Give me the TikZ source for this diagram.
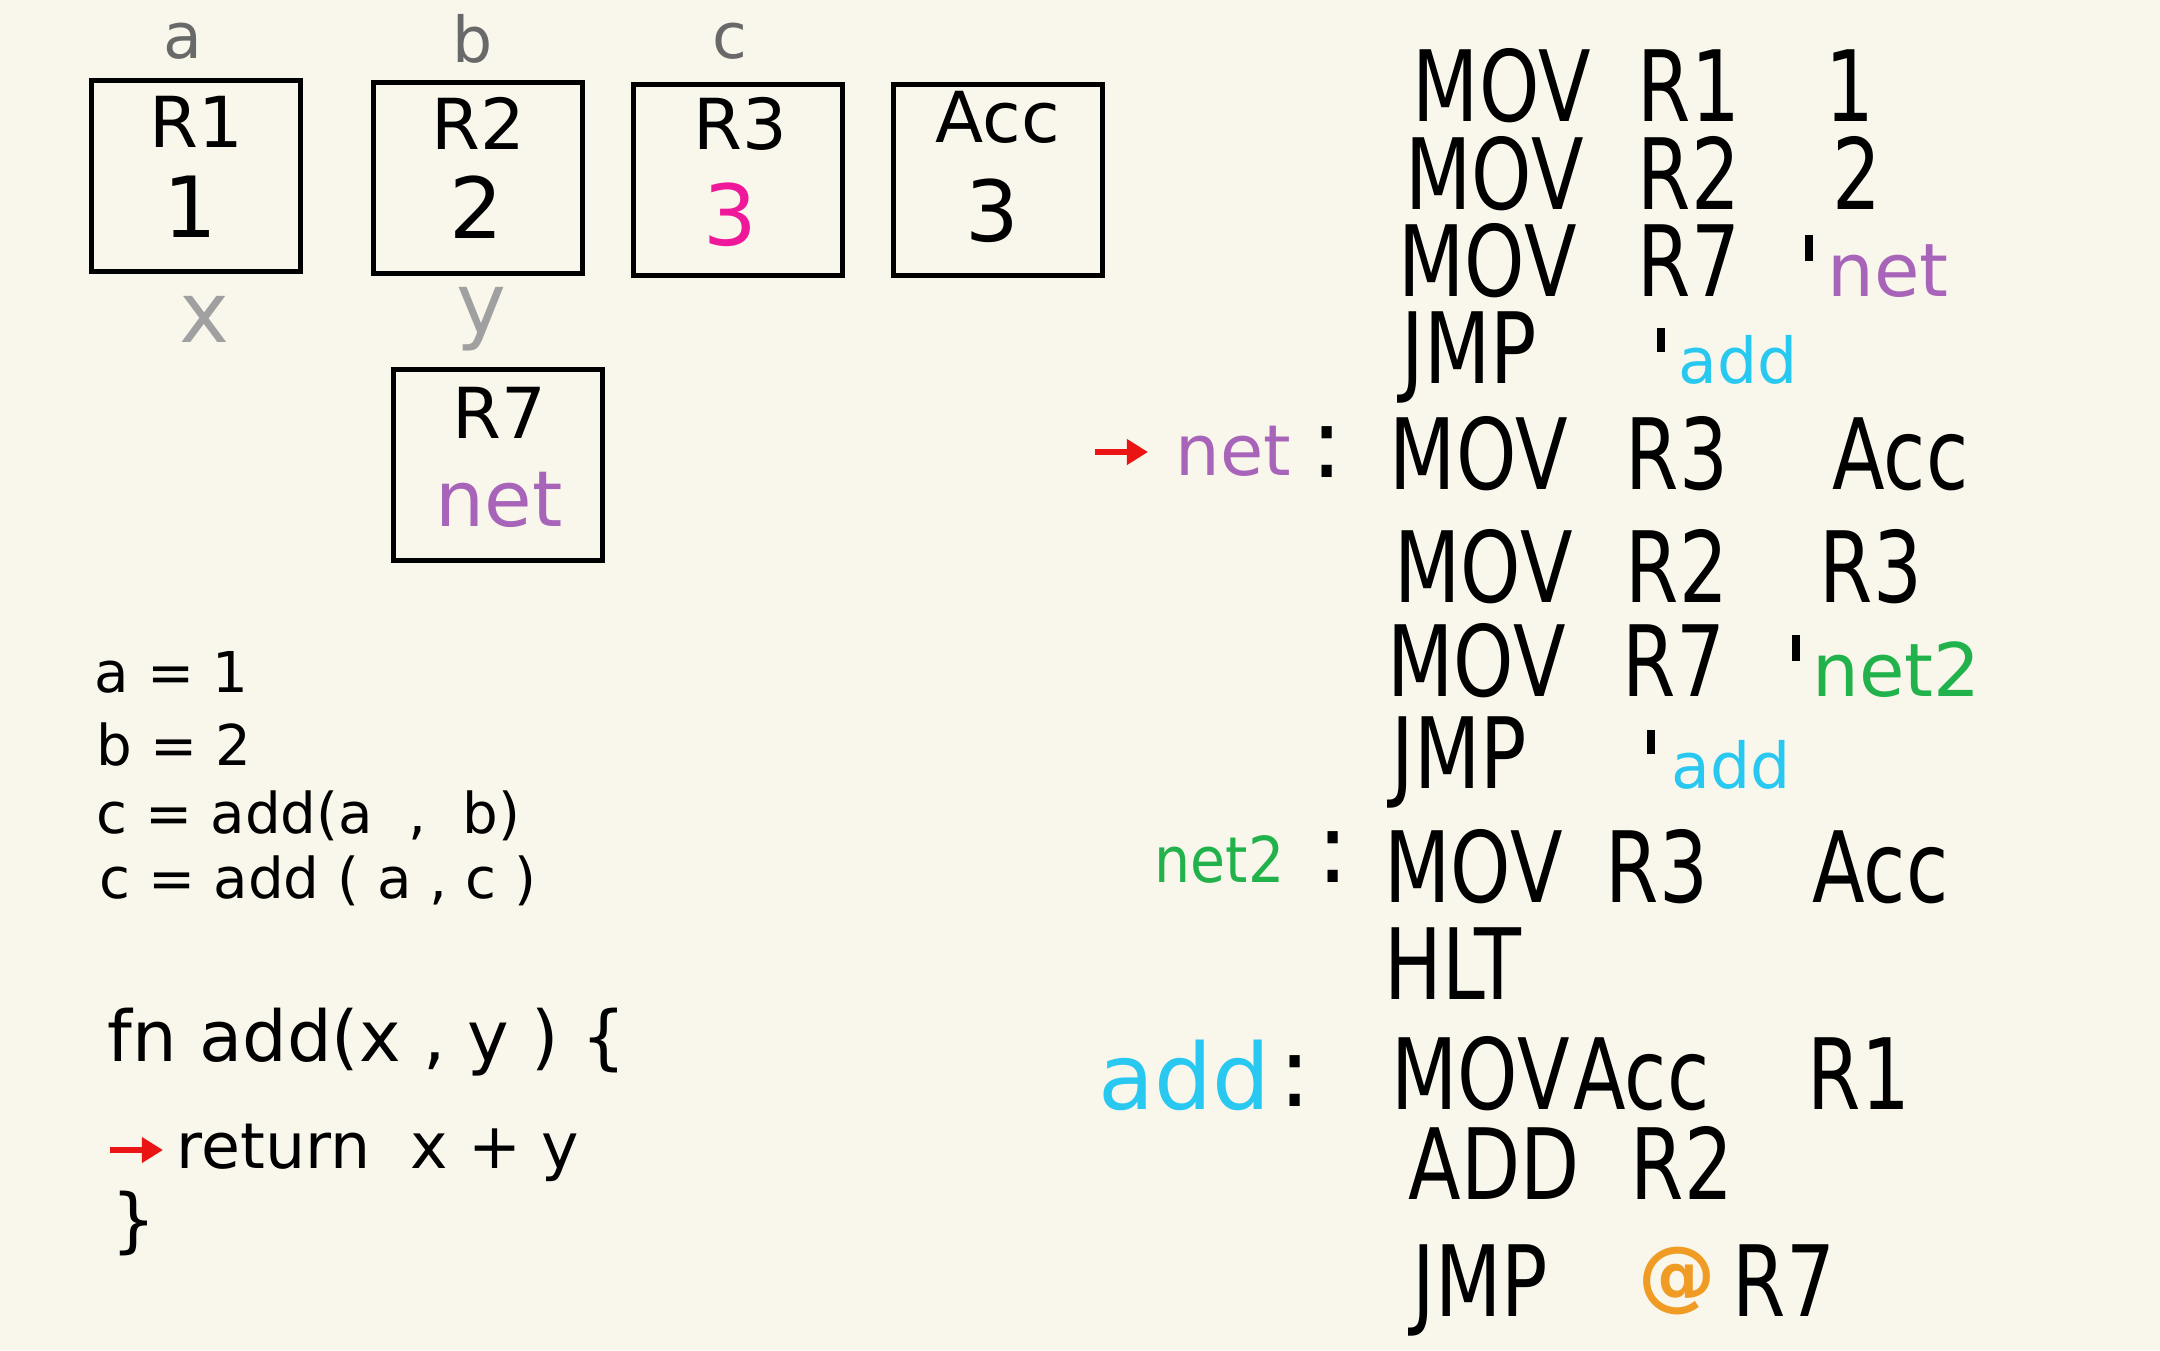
\documentclass[tikz,border=0pt]{standalone}
\usepackage{fontspec}
\setmainfont{DejaVu Sans}
\usetikzlibrary{arrows.meta}
\definecolor{bgc}{RGB}{249,247,236}
\definecolor{lblgray}{RGB}{105,105,105}
\definecolor{lightgrayc}{RGB}{160,160,160}
\definecolor{pinkc}{RGB}{240,24,154}
\definecolor{purplec}{RGB}{168,100,185}
\definecolor{cyanc}{RGB}{40,200,240}
\definecolor{greenc}{RGB}{34,178,76}
\definecolor{orangec}{RGB}{240,155,35}
\definecolor{redc}{RGB}{235,20,20}
\newcommand\sq[1]{\scalebox{0.78}[1]{#1}}
\begin{document}
\begin{tikzpicture}[x=0.01cm,y=-0.01cm,
  regbox/.style={draw, line width=1.6pt, minimum width=2.09cm, minimum height=1.91cm, inner sep=0pt},
  reglbl/.style={font=\fontsize{20}{24}\selectfont, anchor=base, inner sep=0pt},
  regval/.style={font=\fontsize{24}{28}\selectfont, anchor=base, inner sep=0pt},
  varlbl/.style={font=\fontsize{18}{22}\selectfont, anchor=base, inner sep=0pt, text=lblgray},
  parlbl/.style={font=\fontsize{24}{28}\selectfont, anchor=base, inner sep=0pt, text=lightgrayc},
  leftcode/.style={font=\fontsize{16}{20}\selectfont, anchor=base west, inner sep=0pt},
  fncode/.style={font=\fontsize{20}{24}\selectfont, anchor=base west, inner sep=0pt},
  rcode/.style={font=\fontsize{28}{32}\selectfont, anchor=base west, inner sep=0pt},
  tick/.style={anchor=center, inner sep=0pt},
  colonlbl/.style={font=\fontsize{28}{32}\selectfont, anchor=center, inner sep=0pt},
  redarr/.style={draw=redc, line width=1.8pt, -{Triangle[length=6pt,width=7pt]}, redc}
]
\fill[bgc] (0,0) rectangle (2160,1350);
\useasboundingbox (0,0) rectangle (2160,1350);

% register boxes
\node[regbox] (boxR1) at (196,176) {};
\node[regbox] (boxR2) at (478,178) {};
\node[regbox] (boxR3) at (738,180) {};
\node[regbox] (boxAcc) at (998,180) {};
\node[regbox] (boxR7) at (498,465) {};

\node[reglbl] (nR1) at (196,147) {R1};
\node[regval] (vR1) at (190,237) {1};
\node[reglbl] (nR2) at (478,149) {R2};
\node[regval] (vR2) at (476,238) {2};
\node[reglbl] (nR3) at (740,149) {R3};
\node[regval, text=pinkc] (vR3) at (730,245) {3};
\node[reglbl] (nAcc) at (998,142) {Acc};
\node[regval] (vAcc) at (992,241) {3};
\node[reglbl] (nR7) at (499,438) {R7};
\node[regval, text=purplec, font=\fontsize{22}{26}\selectfont] (vR7) at (499,526) {net};

% variable labels
\node[varlbl] (la) at (183,58) {a};
\node[varlbl] (lb) at (473,62) {b};
\node[varlbl] (lc) at (730,58) {c};
\node[parlbl] (lx) at (204,342) {x};
\node[parlbl] (ly) at (481,333) {y};

% left code
\node[leftcode] (c1) at (94,692) {a = 1};
\node[leftcode] (c2) at (96,765) {b = 2};
\node[leftcode] (c3) at (96,833) {c = add(a\ \ ,\ \ b)};
\node[leftcode] (c4) at (99,898) {c = add ( a , c )};
\node[fncode] (c5) at (107,1061) {fn add(x , y ) {\{}};
\coordinate (la1) at (110,1150);
\coordinate (la2) at (163,1150);
\draw[redarr] (la1) -- (la2);
\node[fncode, font=\fontsize{18}{22}\selectfont] (c6) at (176,1168) {return\ \ x + y};
\node[fncode, anchor=center] (c7) at (134,1223) {\}};

% right code
\node[rcode] (r1a) at (1412,121) {\sq{MOV}};
\node[rcode] (r1b) at (1637,121) {\sq{R1}};
\node[rcode] (r1c) at (1825,121) {\sq{1}};

\node[rcode] (r2a) at (1405,209) {\sq{MOV}};
\node[rcode] (r2b) at (1637,209) {\sq{R2}};
\node[rcode] (r2c) at (1832,209) {\sq{2}};

\node[rcode] (r3a) at (1398,296) {\sq{MOV}};
\node[rcode] (r3b) at (1637,296) {\sq{R7}};
\node[tick] (r3t) at (1809,248) {\rule{2.3pt}{7.4pt}};
\node[rcode, text=purplec, font=\fontsize{21}{25}\selectfont] (r3c) at (1827,296) {net};

\node[rcode] (r4a) at (1401,383) {\sq{JMP}};
\node[tick] (r4t) at (1661,340) {\rule{2.3pt}{7pt}};
\node[rcode, text=cyanc, font=\fontsize{18}{22}\selectfont] (r4c) at (1678,383) {add};

\coordinate (ra1) at (1095,452);
\coordinate (ra2) at (1148,452);
\draw[redarr] (ra1) -- (ra2);
\node[rcode, text=purplec, font=\fontsize{20}{24}\selectfont] (lblnet) at (1175,475) {net};
\node[colonlbl] (col1) at (1327,452) {:};
\node[rcode] (r5a) at (1389,489) {\sq{MOV}};
\node[rcode] (r5b) at (1625,489) {\sq{R3}};
\node[rcode] (r5c) at (1832,489) {\sq{Acc}};

\node[rcode] (r6a) at (1394,602) {\sq{MOV}};
\node[rcode] (r6b) at (1625,602) {\sq{R2}};
\node[rcode] (r6c) at (1819,602) {\sq{R3}};

\node[rcode] (r7a) at (1387,696) {\sq{MOV}};
\node[rcode] (r7b) at (1622,696) {\sq{R7}};
\node[tick] (r7t) at (1796,648) {\rule{2.3pt}{7.4pt}};
\node[rcode, text=greenc, font=\fontsize{21}{25}\selectfont] (r7c) at (1812,696) {net2};

\node[rcode] (r8a) at (1391,788) {\sq{JMP}};
\node[tick] (r8t) at (1651,742) {\rule{2.3pt}{6.6pt}};
\node[rcode, text=cyanc, font=\fontsize{18}{22}\selectfont] (r8c) at (1671,788) {add};

\node[rcode, text=greenc, font=\fontsize{18}{22}\selectfont] (lblnet2) at (1154,882) {\scalebox{0.9}[1]{net2}};
\node[colonlbl] (col2) at (1333,857) {:};
\node[rcode] (r9a) at (1384,902) {\sq{MOV}};
\node[rcode] (r9b) at (1605,902) {\sq{R3}};
\node[rcode] (r9c) at (1812,902) {\sq{Acc}};

\node[rcode] (r10a) at (1384,999) {\sq{HLT}};

\node[rcode, text=cyanc, font=\fontsize{26}{30}\selectfont] (lbladd) at (1098,1109) {add};
\node[colonlbl] (col3) at (1295,1081) {:};
\node[rcode] (r11a) at (1391,1109) {\sq{MOV}};
\node[rcode] (r11b) at (1573,1109) {\sq{Acc}};
\node[rcode] (r11c) at (1807,1109) {\sq{R1}};

\node[rcode] (r12a) at (1408,1199) {\sq{ADD}};
\node[rcode] (r12b) at (1630,1199) {\sq{R2}};

\node[rcode] (r13a) at (1412,1316) {\sq{JMP}};
\node[font=\fontsize{22}{26}\selectfont\bfseries, text=orangec, anchor=center, inner sep=0pt] (r13at) at (1677,1281) {@};
\node[rcode] (r13b) at (1732,1316) {\sq{R7}};
\end{tikzpicture}
\end{document}
